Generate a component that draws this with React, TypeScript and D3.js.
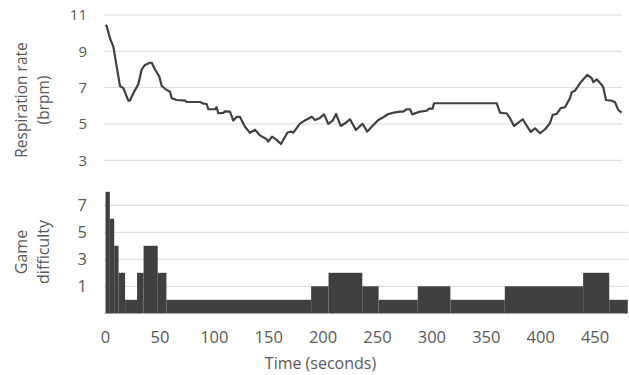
import { useEffect } from "react";
import * as d3 from "d3";

// respiration rate (brpm) over time (s)
const respTime = [
  0, 1.1, 4.1, 7.2, 10.3, 13.3, 16.4, 21.0, 22.5, 25.6, 30.1, 33.3, 36.3, 40.9, 42.5, 45.5, 49.4, 51.7, 56.3,
  59.3, 60.8, 65.4, 73.1, 74.6, 86.9, 89.9, 93.0, 94.5, 100.6, 102.2, 103.7, 108.3, 109.8, 114.4, 117.5, 120.6,
  123.6, 128.2, 132.8, 137.4, 142.0, 148.2, 149.6, 153.0, 157.0, 161.3, 167.3, 170.5, 172.6, 178.8, 183.4, 186.4,
  189.5, 192.6, 196.5, 200.8, 204.8, 208.8, 211.9, 216.2, 221.0, 224.7, 230.2, 233.9, 236.4, 240.6, 244.7, 250.7,
  255.3, 259.9, 266.1, 270.7, 273.7, 276.8, 279.9, 282.0, 286.0, 289.1, 295.2, 297.6, 300.7, 301.9, 359.6, 362.6,
  366.3, 368.7, 371.8, 375.5, 379.4, 383.5, 390.8, 394.8, 399.4, 404.0, 408.5, 411.0, 414.7, 418.4, 422.3, 426.9,
  428.5, 431.5, 436.1, 439.2, 442.8, 446.9, 448.3, 451.5, 456.1, 457.5, 460.0, 465.3, 468.3, 471.3, 474.4,
];
const respRate = [
  10.45, 10.39, 9.72, 9.26, 8.16, 7.09, 6.97, 6.29, 6.29, 6.69, 7.18, 8.01, 8.25, 8.37, 8.37, 8.0, 7.62, 7.09, 6.87,
  6.78, 6.42, 6.32, 6.29, 6.21, 6.21, 6.12, 6.1, 5.81, 5.81, 5.92, 5.59, 5.61, 5.69, 5.68, 5.19, 5.39,
  5.39, 4.85, 4.51, 4.69, 4.37, 4.16, 4.03, 4.3, 4.14, 3.9, 4.53, 4.58, 4.52, 5.02, 5.2, 5.29,
  5.4, 5.22, 5.31, 5.53, 5.0, 5.18, 5.55, 4.89, 5.07, 5.26, 4.67, 4.89, 5.0, 4.58, 4.85, 5.22,
  5.37, 5.55, 5.64, 5.68, 5.68, 5.81, 5.81, 5.53, 5.62, 5.68, 5.73, 5.84, 5.84, 6.14, 6.14, 5.62,
  5.59, 5.59, 5.31, 4.89, 5.07, 5.26, 4.56, 4.76, 4.49, 4.71, 5.04, 5.5, 5.55, 5.87, 5.92, 6.42,
  6.75, 6.83, 7.24, 7.46, 7.7, 7.52, 7.3, 7.46, 7.15, 7.02, 6.32, 6.28, 6.2, 5.77, 5.62,
];

// game difficulty steps: level held from start until the next start
const diffStart = [0, 4, 8, 12, 18, 29, 35, 48, 56, 189, 205, 236, 251, 287, 317, 367, 439, 463];
const diffLevel = [8, 6, 4, 2, 0, 2, 4, 2, 0, 1, 2, 1, 0, 1, 0, 1, 2, 0];
const diffEnd = 480;

const respTicks = [3, 5, 7, 9, 11];
const diffTicks = [1, 3, 5, 7];
const timeTicks = [0, 50, 100, 150, 200, 250, 300, 350, 400, 450];

const W = 629;
const H = 375;
const ink = "#404040";
const grid = "#d9d9d9";
const label = "#595959";
const font = "'Open Sans', sans-serif";

export default function App() {
  useEffect(() => {
    document.body.style.margin = "0";
  }, []);

  const x = d3.scaleLinear().domain([0, 480]).range([105.5, 105.5 + 480 * 1.088]);
  const yTop = d3.scaleLinear().domain([3, 11]).range([160.3, 15]);
  const yBot = d3.scaleLinear().domain([-1, 8]).range([313.3, 313.3 - 9 * 13.5]);

  const resp = respTime.map((t, i) => [t, respRate[i]] as [number, number]);
  const line = d3
    .line<[number, number]>()
    .x((d) => x(d[0]))
    .y((d) => yTop(d[1]));

  const topRight = x(475);
  const botRight = x(diffEnd);

  return (
    <svg width={W} height={H} style={{ display: "block", background: "#fff" }}>
      {/* top panel */}
      {respTicks.map((v) => (
        <g key={"rt" + v}>
          <line x1={104} x2={topRight} y1={yTop(v)} y2={yTop(v)} stroke={grid} strokeWidth={1} />
          <text x={87} y={yTop(v)} dy="0.36em" textAnchor="end" fontFamily={font} fontSize={15} fill={label}>
            {v}
          </text>
        </g>
      ))}
      <path d={line(resp) || ""} fill="none" stroke={ink} strokeWidth={2.2} strokeLinejoin="round" />
      <text transform="translate(27,100) rotate(-90)" textAnchor="middle" fontFamily={font} fontSize={15.5} fill={label}>
        Respiration rate
      </text>
      <text transform="translate(49,100) rotate(-90)" textAnchor="middle" fontFamily={font} fontSize={15.5} fill={label}>
        (brpm)
      </text>

      {/* bottom panel */}
      {diffTicks.map((v) => (
        <g key={"dt" + v}>
          <line x1={104} x2={botRight} y1={yBot(v)} y2={yBot(v)} stroke={grid} strokeWidth={1} />
          <text x={87} y={yBot(v)} dy="0.36em" textAnchor="end" fontFamily={font} fontSize={16.5} fill={label}>
            {v}
          </text>
        </g>
      ))}
      <line x1={104} x2={botRight} y1={yBot(-1)} y2={yBot(-1)} stroke="#bfbfbf" strokeWidth={1} />
      {diffStart.map((s, i) => {
        const e = i + 1 < diffStart.length ? diffStart[i + 1] : diffEnd;
        return (
          <rect
            key={"b" + i}
            x={x(s)}
            width={x(e) - x(s)}
            y={yBot(diffLevel[i])}
            height={yBot(-1) - yBot(diffLevel[i])}
            fill={ink}
          />
        );
      })}
      <text transform="translate(27,252) rotate(-90)" textAnchor="middle" fontFamily={font} fontSize={16} fill={label}>
        Game
      </text>
      <text transform="translate(49,252) rotate(-90)" textAnchor="middle" fontFamily={font} fontSize={16} fill={label}>
        difficulty
      </text>

      {timeTicks.map((t) => (
        <text key={"xt" + t} x={x(t)} y={343} textAnchor="middle" fontFamily={font} fontSize={16.5} fill={label}>
          {t}
        </text>
      ))}
      <text x={320.5} y={369} textAnchor="middle" fontFamily={font} fontSize={16} fill={label}>
        Time (seconds)
      </text>
    </svg>
  );
}
